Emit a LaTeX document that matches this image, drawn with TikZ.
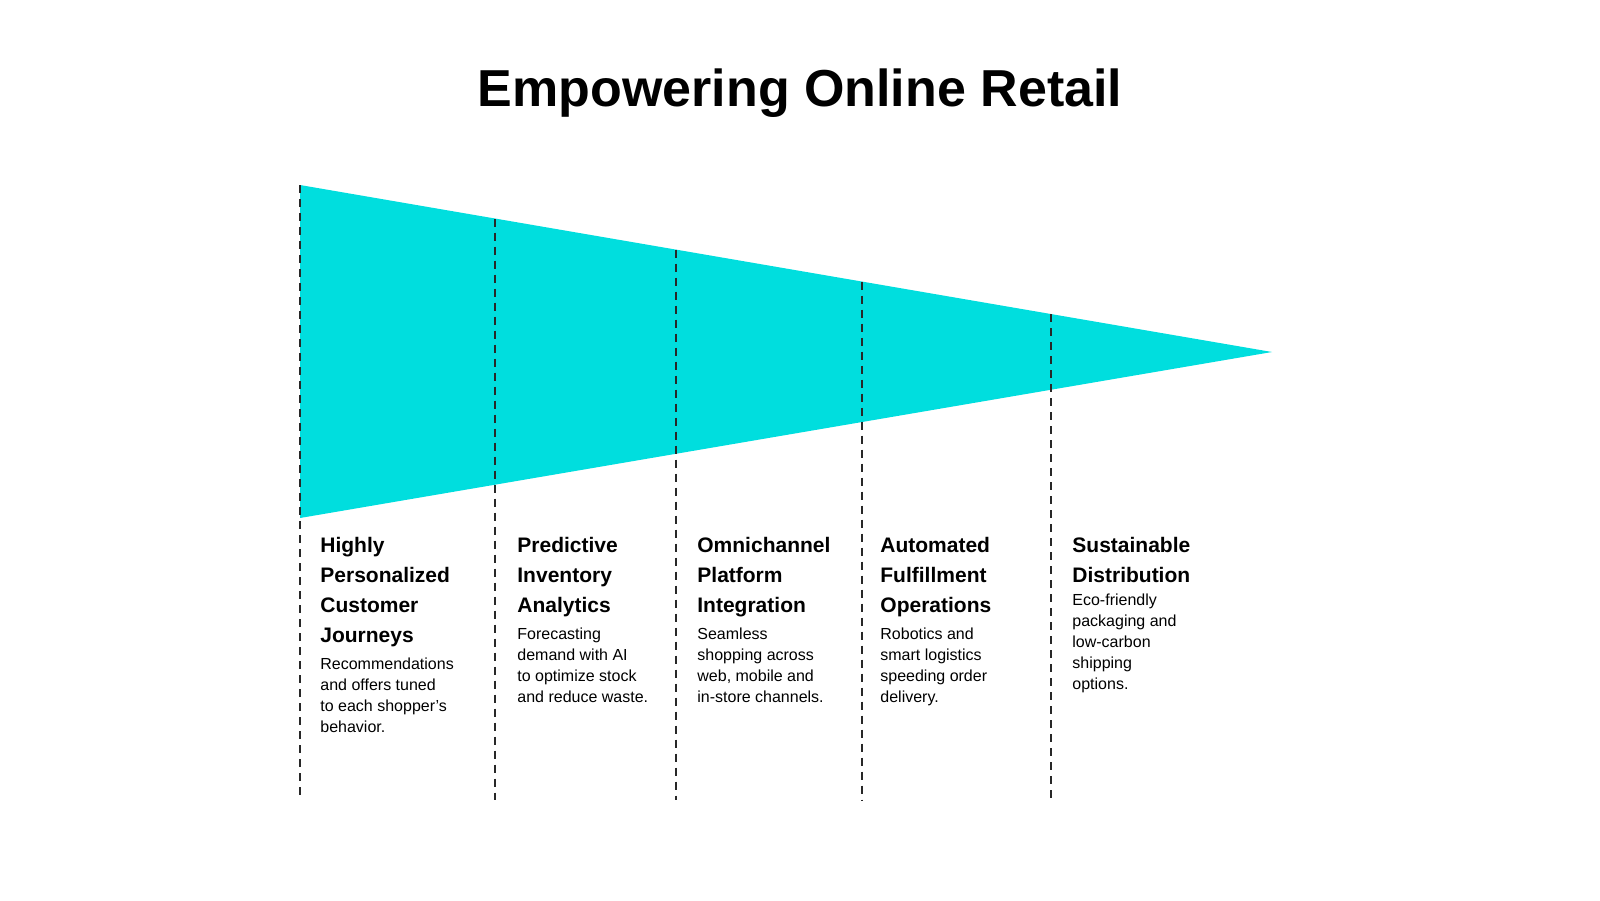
\documentclass[tikz,border=0pt]{standalone}
\usepackage{fontspec}
\setmainfont{Liberation Sans}
\definecolor{funnelcyan}{RGB}{0,222,222}
\definecolor{divdark}{RGB}{40,40,40}
\begin{document}
\begin{tikzpicture}[x=0.5pt,y=-0.5pt]
\tikzset{
  funnel/.style={fill=funnelcyan, draw=none},
  divider/.style={draw=divdark, line width=0.9pt, dash pattern=on 4pt off 3pt},
  head/.style={anchor=north west, align=left, inner sep=0pt,
    font=\bfseries\fontsize{10.5}{15}\selectfont},
  desc/.style={anchor=north west, align=left, inner sep=0pt,
    font=\fontsize{8}{10.5}\selectfont},
  titletext/.style={anchor=base, inner sep=0pt, font=\bfseries\fontsize{26}{30}\selectfont}
}
\useasboundingbox (0,0) rectangle (1600,900);

% title
\node[titletext] (title) at (800,106) {Empowering Online Retail};

% funnel corners
\coordinate (A) at (300,185);
\coordinate (B) at (1272,352);
\coordinate (C) at (300,518);
\fill[funnel] (A) -- (B) -- (C) -- cycle;

% divider top points (on upper edge) and bottom ends
\coordinate (d0t) at (300,185);
\coordinate (d1t) at (495,218.5);
\coordinate (d2t) at (676,249.6);
\coordinate (d3t) at (862,281.6);
\coordinate (d4t) at (1051,314);
\coordinate (d0b) at (300,800);
\coordinate (d1b) at (495,800);
\coordinate (d2b) at (676,800);
\coordinate (d3b) at (862,800);
\coordinate (d4b) at (1051,800);
\foreach \i in {0,...,4} {\draw[divider] (d\i t) -- (d\i b);}

% column 1
\node[head] (h1) at (320,537) {Highly\\Personalized\\Customer\\Journeys};
\node[desc, yshift=-5pt] (p1) at (h1.south west) {Recommendations\\and offers tuned\\to each shopper's\\behavior.};

% column 2
\node[head] (h2) at (517,537) {Predictive\\Inventory\\Analytics};
\node[desc, yshift=-5pt] (p2) at (h2.south west) {Forecasting\\demand with AI\\to optimize stock\\and reduce waste.};

% column 3
\node[head] (h3) at (697,537) {Omnichannel\\Platform\\Integration};
\node[desc, yshift=-5pt] (p3) at (h3.south west) {Seamless\\shopping across\\web, mobile and\\in-store channels.};

% column 4
\node[head] (h4) at (880,537) {Automated\\Fulfillment\\Operations};
\node[desc, yshift=-5pt] (p4) at (h4.south west) {Robotics and\\smart logistics\\speeding order\\delivery.};

% column 5
\node[head] (h5) at (1072,537) {Sustainable\\Distribution};
\node[desc, yshift=-5pt] (p5) at (h5.south west) {Eco-friendly\\packaging and\\low-carbon\\shipping\\options.};
\end{tikzpicture}
\end{document}
